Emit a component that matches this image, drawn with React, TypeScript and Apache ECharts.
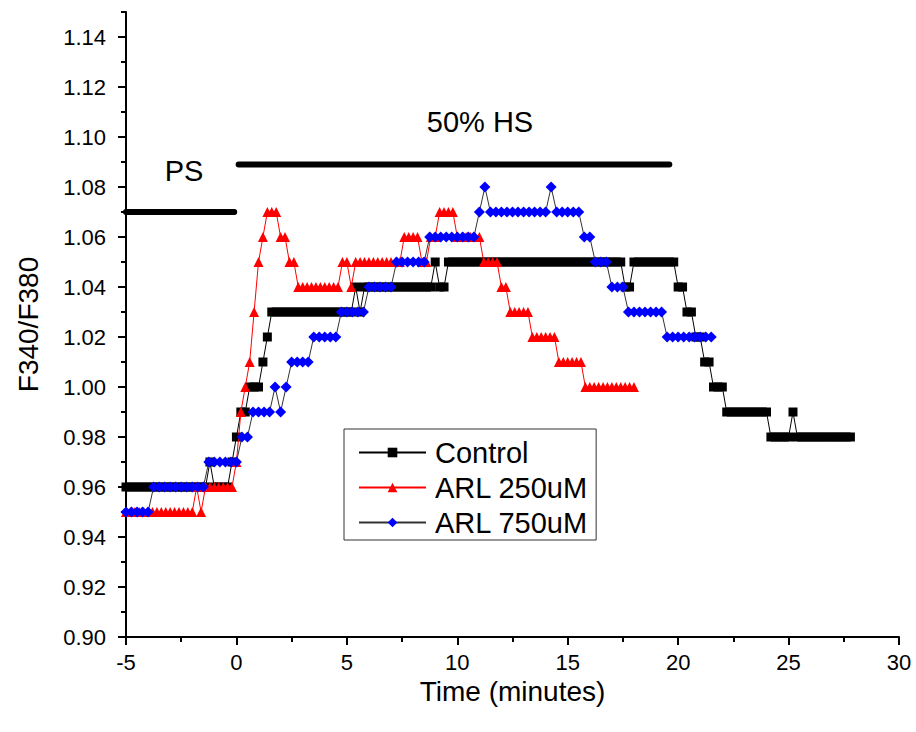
import React, { useEffect, useRef } from "react";
import * as echarts from "echarts";

// ---- data ----
const T_START = -5; // minutes, first sample
const STEP_CONTROL = 0.2; // sampling interval (min)
const STEP_ARL250 = 0.2;
const STEP_ARL750 = 0.25;

const controlValues = [
  0.96, 0.96, 0.96, 0.96, 0.96, 0.96, 0.96, 0.96, 0.96, 0.96,
  0.96, 0.96, 0.96, 0.96, 0.96, 0.96, 0.96, 0.96, 0.96, 0.97,
  0.96, 0.96, 0.96, 0.96, 0.97, 0.98, 0.99, 0.99, 1.0, 1.0,
  1.0, 1.01, 1.02, 1.03, 1.03, 1.03, 1.03, 1.03, 1.03, 1.03,
  1.03, 1.03, 1.03, 1.03, 1.03, 1.03, 1.03, 1.03, 1.03, 1.03,
  1.03, 1.03, 1.04, 1.03, 1.04, 1.04, 1.04, 1.04, 1.04, 1.04,
  1.04, 1.04, 1.04, 1.04, 1.04, 1.04, 1.04, 1.04, 1.04, 1.04,
  1.05, 1.04, 1.04, 1.05, 1.05, 1.05, 1.05, 1.05, 1.05, 1.05,
  1.05, 1.05, 1.05, 1.05, 1.05, 1.05, 1.05, 1.05, 1.05, 1.05,
  1.05, 1.05, 1.05, 1.05, 1.05, 1.05, 1.05, 1.05, 1.05, 1.05,
  1.05, 1.05, 1.05, 1.05, 1.05, 1.05, 1.05, 1.05, 1.05, 1.05,
  1.05, 1.05, 1.05, 1.04, 1.04, 1.05, 1.05, 1.05, 1.05, 1.05,
  1.05, 1.05, 1.05, 1.05, 1.05, 1.04, 1.04, 1.03, 1.03, 1.02,
  1.02, 1.01, 1.01, 1.0, 1.0, 1.0, 0.99, 0.99, 0.99, 0.99,
  0.99, 0.99, 0.99, 0.99, 0.99, 0.99, 0.98, 0.98, 0.98, 0.98,
  0.98, 0.99, 0.98, 0.98, 0.98, 0.98, 0.98, 0.98, 0.98, 0.98,
  0.98, 0.98, 0.98, 0.98, 0.98,
];

const arl250Values = [
  0.95, 0.95, 0.95, 0.95, 0.95, 0.95, 0.95, 0.95, 0.95, 0.95,
  0.95, 0.95, 0.95, 0.95, 0.95, 0.95, 0.96, 0.95, 0.96, 0.96,
  0.96, 0.96, 0.96, 0.96, 0.96, 0.97, 0.99, 1.0, 1.01, 1.03,
  1.05, 1.06, 1.07, 1.07, 1.07, 1.06, 1.06, 1.05, 1.05, 1.04,
  1.04, 1.04, 1.04, 1.04, 1.04, 1.04, 1.04, 1.04, 1.04, 1.05,
  1.05, 1.04, 1.05, 1.05, 1.05, 1.05, 1.05, 1.05, 1.05, 1.05,
  1.05, 1.05, 1.05, 1.06, 1.06, 1.06, 1.06, 1.05, 1.05, 1.06,
  1.06, 1.07, 1.07, 1.07, 1.07, 1.06, 1.06, 1.06, 1.06, 1.06,
  1.06, 1.05, 1.05, 1.05, 1.05, 1.04, 1.04, 1.03, 1.03, 1.03,
  1.03, 1.03, 1.02, 1.02, 1.02, 1.02, 1.02, 1.02, 1.01, 1.01,
  1.01, 1.01, 1.01, 1.01, 1.0, 1.0, 1.0, 1.0, 1.0, 1.0,
  1.0, 1.0, 1.0, 1.0, 1.0, 1.0,
];

const arl750Values = [
  0.95, 0.95, 0.95, 0.95, 0.95, 0.96, 0.96, 0.96, 0.96, 0.96,
  0.96, 0.96, 0.96, 0.96, 0.96, 0.97, 0.97, 0.97, 0.97, 0.97,
  0.97, 0.98, 0.98, 0.99, 0.99, 0.99, 0.99, 1.0, 0.99, 1.0,
  1.01, 1.01, 1.01, 1.01, 1.02, 1.02, 1.02, 1.02, 1.02, 1.03,
  1.03, 1.03, 1.03, 1.03, 1.04, 1.04, 1.04, 1.04, 1.04, 1.05,
  1.05, 1.05, 1.05, 1.05, 1.05, 1.06, 1.06, 1.06, 1.06, 1.06,
  1.06, 1.06, 1.06, 1.06, 1.07, 1.08, 1.07, 1.07, 1.07, 1.07,
  1.07, 1.07, 1.07, 1.07, 1.07, 1.07, 1.07, 1.08, 1.07, 1.07,
  1.07, 1.07, 1.07, 1.06, 1.06, 1.05, 1.05, 1.05, 1.04, 1.04,
  1.04, 1.03, 1.03, 1.03, 1.03, 1.03, 1.03, 1.03, 1.02, 1.02,
  1.02, 1.02, 1.02, 1.02, 1.02, 1.02, 1.02,
];

// treatment bars: [start time, end time, level]
const psBar = [-5, -0.1, 1.07];
const hsBar = [0.1, 19.6, 1.089];

const seriesNames = ["Control", "ARL 250uM", "ARL 750uM"];
const annotationTexts = ["PS", "50% HS"];
const xTitle = "Time (minutes)";
const yTitle = "F340/F380";

const FONT = '"Liberation Sans", Arial, Helvetica, sans-serif';

function toPairs(values: number[], step: number): number[][] {
  return values.map((v, i) => [+(T_START + i * step).toFixed(3), v]);
}

export default function App() {
  const ref = useRef<HTMLDivElement>(null);

  useEffect(() => {
    if (!ref.current) return;
    const chart = echarts.init(ref.current, undefined, { renderer: "svg" });

    const axisLineStyle = { color: "#000", width: 2 };

    const option: any = {
      animation: false,
      backgroundColor: "#ffffff",
      textStyle: { fontFamily: FONT, color: "#000" },
      grid: [
        { left: 126, right: 17, top: 12, bottom: 95, containLabel: false },
        { left: 126, right: 17, top: 37, bottom: 95, containLabel: false },
      ],
      xAxis: [
        {
          type: "value",
          gridIndex: 0,
          min: -5,
          max: 30,
          interval: 5,
          name: xTitle,
          nameLocation: "middle",
          nameGap: 36,
          nameTextStyle: { fontSize: 28, color: "#000", fontFamily: FONT },
          axisLine: { show: true, onZero: false, lineStyle: axisLineStyle },
          axisTick: { show: true, inside: false, length: 8, lineStyle: axisLineStyle },
          minorTick: { show: true, splitNumber: 2, length: 5, lineStyle: axisLineStyle },
          axisLabel: { fontSize: 22, color: "#000", margin: 14, fontFamily: FONT },
          splitLine: { show: false },
          minorSplitLine: { show: false },
        },
        {
          type: "value",
          gridIndex: 1,
          min: -5,
          max: 30,
          show: false,
          axisLine: { onZero: false },
        },
      ],
      yAxis: [
        {
          type: "value",
          gridIndex: 0,
          min: 0.9,
          max: 1.15,
          interval: 0.05,
          name: yTitle,
          nameLocation: "middle",
          nameGap: 84,
          nameTextStyle: { fontSize: 28, color: "#000", fontFamily: FONT },
          axisLine: { show: true, onZero: false, lineStyle: axisLineStyle },
          axisTick: { show: true, inside: false, length: 5, lineStyle: axisLineStyle },
          axisLabel: { show: false },
          splitLine: { show: false },
        },
        {
          type: "value",
          gridIndex: 1,
          position: "left",
          min: 0.9,
          max: 1.14,
          interval: 0.02,
          axisLine: { show: false, onZero: false },
          axisTick: { show: true, inside: false, length: 8, lineStyle: axisLineStyle },
          minorTick: { show: true, splitNumber: 2, length: 5, lineStyle: axisLineStyle },
          axisLabel: {
            fontSize: 22,
            color: "#000",
            margin: 20,
            fontFamily: FONT,
            formatter: (v: number) => v.toFixed(2),
          },
          splitLine: { show: false },
          minorSplitLine: { show: false },
        },
      ],
      legend: {
        orient: "vertical",
        left: 344,
        top: 429,
        data: seriesNames,
        itemWidth: 67,
        itemHeight: 12,
        itemGap: 6,
        padding: [9, 8, 3, 14],
        borderColor: "#333",
        borderWidth: 1,
        borderRadius: 0,
        backgroundColor: "#fff",
        selectedMode: false,
        textStyle: { fontSize: 29, color: "#000", fontFamily: FONT, padding: [0, 0, 0, 4] },
      },
      graphic: [
        {
          type: "text",
          x: 184,
          y: 171,
          silent: true,
          style: {
            text: annotationTexts[0],
            fontSize: 29,
            fontFamily: FONT,
            fill: "#000",
            align: "center",
            verticalAlign: "middle",
          },
        },
        {
          type: "text",
          x: 480,
          y: 122,
          silent: true,
          style: {
            text: annotationTexts[1],
            fontSize: 29,
            fontFamily: FONT,
            fill: "#000",
            align: "center",
            verticalAlign: "middle",
          },
        },
      ],
      series: [
        {
          name: seriesNames[0],
          type: "line",
          xAxisIndex: 0,
          yAxisIndex: 0,
          data: toPairs(controlValues, STEP_CONTROL),
          symbol: "rect",
          symbolSize: 9,
          showAllSymbol: true,
          itemStyle: { color: "#000" },
          lineStyle: { color: "#000", width: 1 },
          z: 2,
        },
        {
          name: seriesNames[1],
          type: "line",
          xAxisIndex: 0,
          yAxisIndex: 0,
          data: toPairs(arl250Values, STEP_ARL250),
          symbol: "triangle",
          symbolSize: [10, 10],
          showAllSymbol: true,
          itemStyle: { color: "#ff0000" },
          lineStyle: { color: "#ff0000", width: 1 },
          z: 3,
        },
        {
          name: seriesNames[2],
          type: "line",
          xAxisIndex: 0,
          yAxisIndex: 0,
          data: toPairs(arl750Values, STEP_ARL750),
          symbol: "diamond",
          symbolSize: 11,
          showAllSymbol: true,
          itemStyle: { color: "#0000ff" },
          lineStyle: { color: "#333", width: 1 },
          z: 4,
        },
        {
          name: "PS bar",
          type: "line",
          xAxisIndex: 0,
          yAxisIndex: 0,
          data: [
            [psBar[0], psBar[2]],
            [psBar[1], psBar[2]],
          ],
          symbol: "none",
          silent: true,
          lineStyle: { color: "#000", width: 6, cap: "round" },
          z: 5,
        },
        {
          name: "HS bar",
          type: "line",
          xAxisIndex: 0,
          yAxisIndex: 0,
          data: [
            [hsBar[0], hsBar[2]],
            [hsBar[1], hsBar[2]],
          ],
          symbol: "none",
          silent: true,
          lineStyle: { color: "#000", width: 6, cap: "round" },
          z: 5,
        },
      ],
    };

    chart.setOption(option);
    return () => {
      chart.dispose();
    };
  }, []);

  return (
    <div
      ref={ref}
      style={{ position: "absolute", left: 0, top: 0, width: 916, height: 732, background: "#fff" }}
    />
  );
}
